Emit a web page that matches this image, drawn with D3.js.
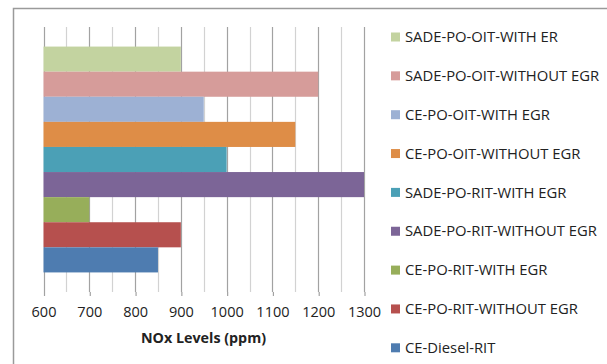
<!DOCTYPE html>
<html>
<head>
<meta charset="utf-8">
<script src="https://cdn.jsdelivr.net/npm/d3@7"></script>
<style>
  html, body { margin: 0; padding: 0; background: #fff; }
  svg { display: block; font-family: "Open Sans", Lato, sans-serif; }
</style>
</head>
<body>
<svg id="chart" width="607" height="364"></svg>
<script>
// Series, top to bottom
const seriesNames = [
  "SADE-PO-OIT-WITH ER",
  "SADE-PO-OIT-WITHOUT EGR",
  "CE-PO-OIT-WITH EGR",
  "CE-PO-OIT-WITHOUT EGR",
  "SADE-PO-RIT-WITH EGR",
  "SADE-PO-RIT-WITHOUT EGR",
  "CE-PO-RIT-WITH EGR",
  "CE-PO-RIT-WITHOUT EGR",
  "CE-Diesel-RIT"
];
const noxValues = [900, 1200, 950, 1150, 1000, 1300, 700, 900, 850];
const seriesColors = [
  "#C3D3A0", "#D69C9A", "#9DB1D4", "#DE8D47", "#4BA0B6",
  "#7C6597", "#97AE5A", "#B6504E", "#4E7CB0"
];
const majorTicks = [600, 700, 800, 900, 1000, 1100, 1200, 1300];
const minorTicks = [650, 750, 850, 950, 1050, 1150, 1250];
const axisTitle = "NOx Levels (ppm)";

const svg = d3.select("#chart");

// Chart frame (runs off the right and bottom edges)
svg.append("rect")
  .attr("x", 13.5).attr("y", 8.5)
  .attr("width", 620).attr("height", 380)
  .attr("fill", "#fff")
  .attr("stroke", "#9a9a9a")
  .attr("stroke-width", 1.5);

const plot = { left: 43.5, right: 364, top: 27, bottom: 292 };

const x = d3.scaleLinear().domain([600, 1300]).range([plot.left, plot.right]);
const y = d3.scaleBand().domain(seriesNames)
  .range([plot.top, plot.bottom])
  .paddingInner(0).paddingOuter(0.78);

// Gridlines
svg.append("g").selectAll("line").data(minorTicks).join("line")
  .attr("x1", d => Math.round(x(d)) + 0.5).attr("x2", d => Math.round(x(d)) + 0.5)
  .attr("y1", plot.top).attr("y2", plot.bottom)
  .attr("stroke", "#d2d2d2").attr("stroke-width", 1.2);
svg.append("g").selectAll("line").data(majorTicks).join("line")
  .attr("x1", d => Math.round(x(d)) + 0.5).attr("x2", d => Math.round(x(d)) + 0.5)
  .attr("y1", plot.top).attr("y2", plot.bottom)
  .attr("stroke", "#a2a2a2").attr("stroke-width", 1.2);

// Bars
svg.append("g").selectAll("rect").data(seriesNames).join("rect")
  .attr("x", x(600))
  .attr("y", d => y(d))
  .attr("width", (d, i) => x(noxValues[i]) - x(600))
  .attr("height", y.bandwidth())
  .attr("fill", (d, i) => seriesColors[i]);

// X axis (ticks and labels, no domain line)
const xAxis = svg.append("g")
  .attr("transform", `translate(0,${plot.bottom})`)
  .call(d3.axisBottom(x).tickValues(majorTicks).tickFormat(d3.format("d"))
    .tickSize(4).tickPadding(11));
xAxis.select(".domain").remove();
xAxis.selectAll(".tick line").attr("stroke", "#a2a2a2").attr("stroke-width", 1.2)
  .attr("transform", "translate(0.5,0)");
xAxis.selectAll(".tick text")
  .attr("fill", "#222").attr("font-size", 14.5)
  .style("font-family", "'Open Sans', Lato, sans-serif");

svg.append("text")
  .attr("x", 203.5).attr("y", 343)
  .attr("text-anchor", "middle")
  .attr("font-size", 14.3).attr("font-weight", "bold").attr("fill", "#222")
  .text(axisTitle);

// Legend
const legend = svg.append("g").selectAll("g").data(seriesNames).join("g")
  .attr("transform", (d, i) => `translate(391,${37 + i * 38.85})`);
legend.append("rect")
  .attr("x", 0).attr("y", -4.5).attr("width", 9).attr("height", 9)
  .attr("fill", (d, i) => seriesColors[i]);
legend.append("text")
  .attr("x", 14).attr("y", 0).attr("dy", "0.35em")
  .attr("font-size", 14.8).attr("fill", "#222")
  .text(d => d);
</script>
</body>
</html>
